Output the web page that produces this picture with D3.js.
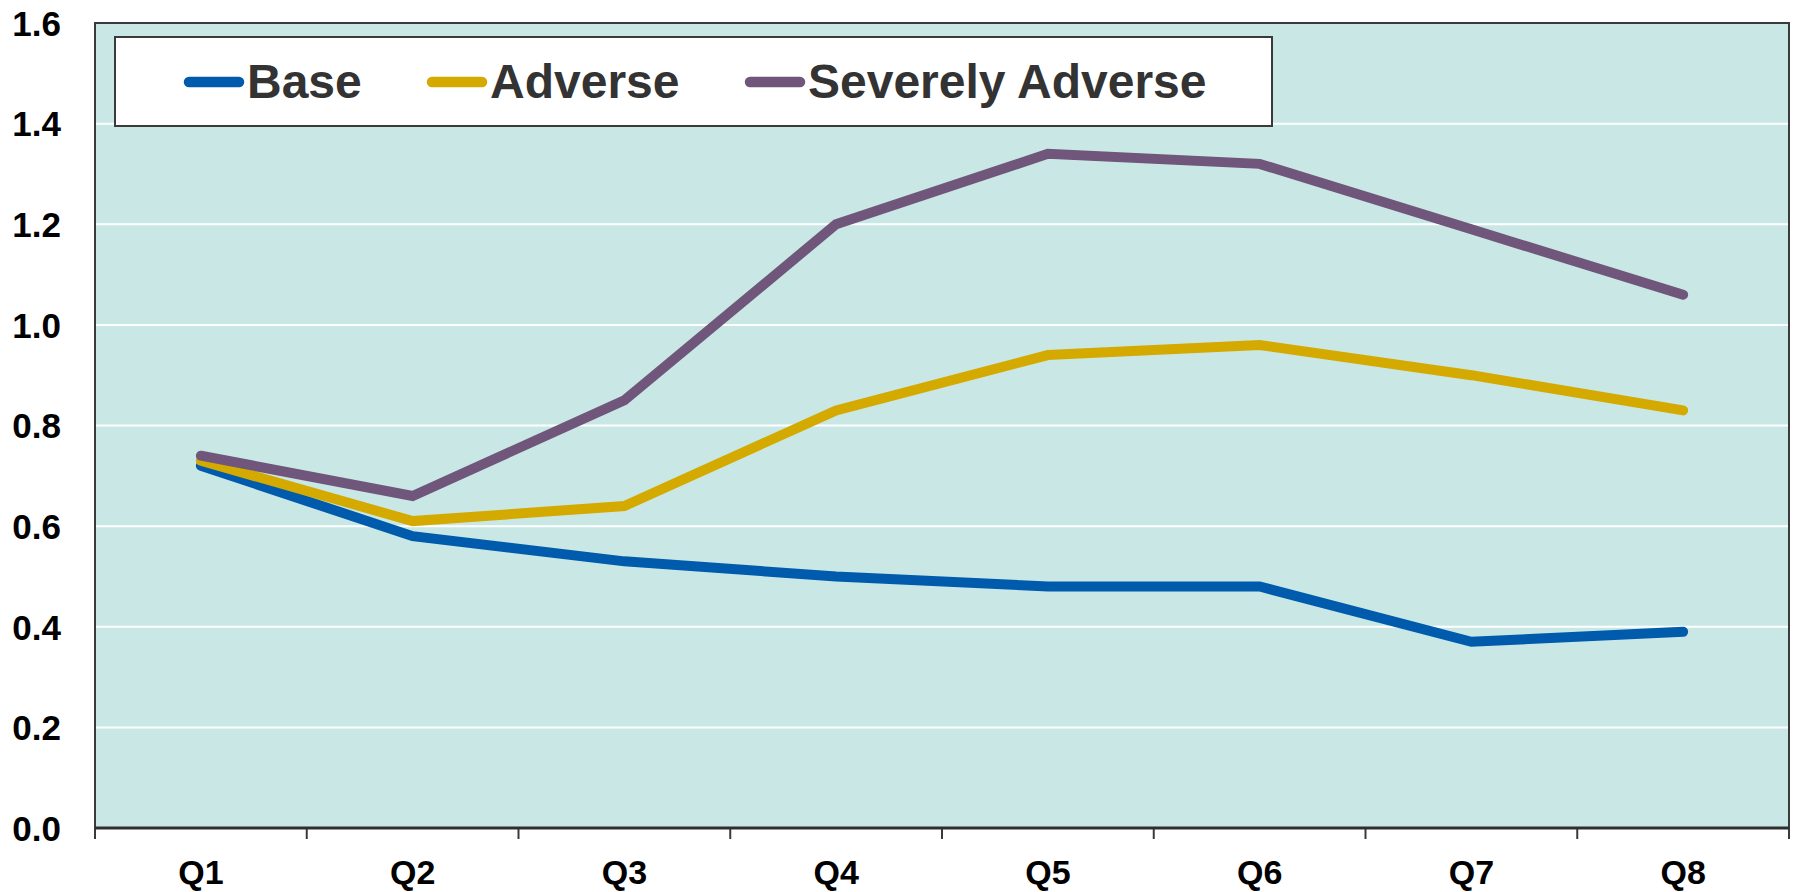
<!DOCTYPE html>
<html>
<head>
<meta charset="utf-8">
<script src="https://cdn.jsdelivr.net/npm/d3@7"></script>
<style>
  html, body { margin: 0; padding: 0; background: #ffffff; }
  svg { display: block; }
  text { font-family: "Liberation Sans", Arial, sans-serif; font-weight: bold; }
</style>
</head>
<body>
<svg id="chart" width="1798" height="892"></svg>
<script>
// Quarterly projections under three scenarios
const quarters = ["Q1", "Q2", "Q3", "Q4", "Q5", "Q6", "Q7", "Q8"];
const baseValues = [0.72, 0.58, 0.53, 0.50, 0.48, 0.48, 0.37, 0.39];
const adverseValues = [0.73, 0.61, 0.64, 0.83, 0.94, 0.96, 0.90, 0.83];
const severeValues = [0.74, 0.66, 0.85, 1.20, 1.34, 1.32, 1.19, 1.06];
const seriesNames = ["Base", "Adverse", "Severely Adverse"];
const yTickValues = [0, 0.2, 0.4, 0.6, 0.8, 1.0, 1.2, 1.4, 1.6];

const seriesColors = ["#005bac", "#d4aa00", "#70567a"];
const series = [baseValues, adverseValues, severeValues].map((values, i) => ({
  name: seriesNames[i], values, color: seriesColors[i]
}));

const svg = d3.select("#chart");
const plot = { left: 95, right: 1789, top: 23, bottom: 828 };

const x = d3.scaleBand().domain(quarters).range([plot.left, plot.right]).paddingInner(0).paddingOuter(0);
const y = d3.scaleLinear().domain([0, 1.6]).range([plot.bottom, plot.top]);

// plot background
svg.append("rect")
  .attr("x", plot.left).attr("y", plot.top)
  .attr("width", plot.right - plot.left).attr("height", plot.bottom - plot.top)
  .attr("fill", "#c9e8e5");

// horizontal gridlines
svg.append("g")
  .selectAll("line")
  .data(yTickValues.filter(v => v > 0 && v < 1.6))
  .join("line")
  .attr("x1", plot.left).attr("x2", plot.right)
  .attr("y1", d => y(d)).attr("y2", d => y(d))
  .attr("stroke", "#ffffff").attr("stroke-width", 2);

// plot frame
svg.append("rect")
  .attr("x", plot.left).attr("y", plot.top)
  .attr("width", plot.right - plot.left).attr("height", plot.bottom - plot.top)
  .attr("fill", "none").attr("stroke", "#3a3a3a").attr("stroke-width", 2);

// y axis labels
const yAxis = d3.axisLeft(y).tickValues(yTickValues).tickFormat(d3.format(".1f")).tickSize(0).tickPadding(34);
const yg = svg.append("g").attr("transform", `translate(${plot.left},0)`).call(yAxis);
yg.select(".domain").remove();
yg.selectAll("text")
  .attr("fill", "#000").attr("font-size", 35).attr("dy", "0.35em")
  .style("font-family", "'Liberation Sans', Arial, sans-serif").style("font-weight", "bold");

// x axis: labels centred in bands, ticks on band boundaries
const xAxis = d3.axisBottom(x).tickSize(0).tickPadding(0);
const xg = svg.append("g").attr("transform", `translate(0,${plot.bottom})`).call(xAxis);
xg.select(".domain").remove();
xg.selectAll("text")
  .attr("y", 56).attr("dy", 0)
  .attr("fill", "#000").attr("font-size", 34)
  .style("font-family", "'Liberation Sans', Arial, sans-serif").style("font-weight", "bold");

const boundaries = quarters.map(q => x(q)).concat([x(quarters[quarters.length - 1]) + x.bandwidth()]);
svg.append("g")
  .selectAll("line")
  .data(boundaries)
  .join("line")
  .attr("x1", d => d).attr("x2", d => d)
  .attr("y1", plot.bottom).attr("y2", plot.bottom + 11)
  .attr("stroke", "#3a3a3a").attr("stroke-width", 2);

svg.append("line")
  .attr("x1", plot.left).attr("x2", plot.right)
  .attr("y1", plot.bottom).attr("y2", plot.bottom)
  .attr("stroke", "#2e2e2e").attr("stroke-width", 3);

// series lines
const line = d3.line()
  .x((d, i) => x(quarters[i]) + x.bandwidth() / 2)
  .y(d => y(d));

svg.append("g")
  .selectAll("path")
  .data(series)
  .join("path")
  .attr("d", d => line(d.values))
  .attr("fill", "none")
  .attr("stroke", d => d.color)
  .attr("stroke-width", 10)
  .attr("stroke-linecap", "round")
  .attr("stroke-linejoin", "miter");

// legend
const legend = svg.append("g");
legend.append("rect")
  .attr("x", 115).attr("y", 37).attr("width", 1157).attr("height", 89)
  .attr("fill", "#ffffff").attr("stroke", "#3a3a3a").attr("stroke-width", 2);

const legendX = [184, 427, 745];
const items = legend.selectAll("g.item")
  .data(series)
  .join("g")
  .attr("class", "item")
  .attr("transform", (d, i) => `translate(${legendX[i]},82)`);
items.append("line")
  .attr("x1", 5).attr("x2", 55).attr("y1", 0).attr("y2", 0)
  .attr("stroke", d => d.color).attr("stroke-width", 10.5).attr("stroke-linecap", "round");
items.append("text")
  .attr("x", 63).attr("y", 16)
  .attr("font-size", 48).attr("fill", "#333333")
  .text(d => d.name);
</script>
</body>
</html>
